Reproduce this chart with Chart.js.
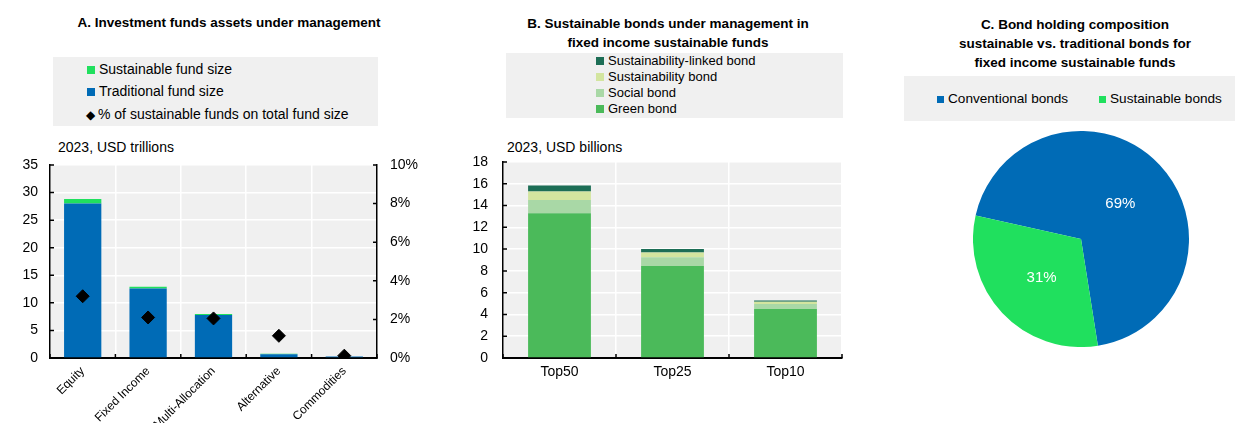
<!DOCTYPE html>
<html>
<head>
<meta charset="utf-8">
<script src="https://cdn.jsdelivr.net/npm/chart.js@4.4.0/dist/chart.umd.min.js"></script>
<style>
  body { margin: 0; width: 1235px; height: 423px; background: #fff; position: relative; overflow: hidden;
         font-family: 'Liberation Sans', Arial, sans-serif; color: #000; }
  .abs { position: absolute; }
  .title { font-weight: bold; font-size: 13.5px; line-height: 19px; text-align: center; }
  .legbox { background: #f0f0f0; }
  .item { position: absolute; white-space: nowrap; line-height: 16px; }
  .sq { display: inline-block; width: 8px; height: 8px; margin-right: 4px; vertical-align: 0px; }
  .unit { font-size: 14px; line-height: 16px; white-space: nowrap; }
  canvas { position: absolute; }
</style>
</head>
<body>
<!-- Panel A -->
<div class="abs title" style="left:29px;top:13px;width:400px;">A. Investment funds assets under management</div>
<div class="abs legbox" style="left:53px;top:57px;width:325px;height:69px;"></div>
<div class="item" style="left:87px;top:61px;font-size:14px;"><span class="sq" style="background:#20e05e"></span>Sustainable fund size</div>
<div class="item" style="left:87px;top:83px;font-size:14px;"><span class="sq" style="background:#006bb6"></span>Traditional fund size</div>
<div class="item" style="left:86px;top:106px;font-size:14px;"><span style="display:inline-block;width:10px;margin-right:2px;font-size:12px;">&#9670;</span>% of sustainable funds on total fund size</div>
<div class="abs unit" style="left:58px;top:139px;">2023, USD trillions</div>
<canvas id="chartA" width="420" height="268" style="left:0;top:155px;width:420px;height:268px;"></canvas>

<!-- Panel B -->
<div class="abs title" style="left:468px;top:14px;width:400px;">B. Sustainable bonds under management in<br>fixed income sustainable funds</div>
<div class="abs legbox" style="left:506px;top:53px;width:337px;height:65px;"></div>
<div class="item" style="left:596px;top:53px;font-size:13px;"><span class="sq" style="background:#1d6e56"></span>Sustainability-linked bond</div>
<div class="item" style="left:596px;top:69px;font-size:13px;"><span class="sq" style="background:#d3e59f"></span>Sustainability bond</div>
<div class="item" style="left:596px;top:85px;font-size:13px;"><span class="sq" style="background:#a9d8a6"></span>Social bond</div>
<div class="item" style="left:596px;top:101px;font-size:13px;"><span class="sq" style="background:#4bba5a"></span>Green bond</div>
<div class="abs unit" style="left:507px;top:139px;">2023, USD billions</div>
<canvas id="chartB" width="430" height="268" style="left:420px;top:155px;width:430px;height:268px;"></canvas>

<!-- Panel C -->
<div class="abs title" style="left:875px;top:15px;width:400px;">C. Bond holding composition<br>sustainable vs. traditional bonds for<br>fixed income sustainable funds</div>
<div class="abs legbox" style="left:904px;top:76px;width:331px;height:45px;"></div>
<div class="item" style="left:937px;top:91px;font-size:13.6px;"><span class="sq" style="background:#006bb6;width:7px;height:7px;"></span>Conventional bonds</div>
<div class="item" style="left:1099px;top:91px;font-size:13.6px;"><span class="sq" style="background:#20e05e;width:7px;height:7px;"></span>Sustainable bonds</div>
<canvas id="chartC" width="216" height="216" style="left:973px;top:131px;width:216px;height:216px;"></canvas>

<script>
// ---- data ----
const fundTypes = ['Equity', 'Fixed Income', 'Multi-Allocation', 'Alternative', 'Commodities'];
const traditionalSize = [28.0, 12.6, 7.8, 0.7, 0.25];
const sustainableSize = [0.85, 0.3, 0.2, 0.08, 0.04];
const sustainableShare = [3.2, 2.1, 2.05, 1.15, 0.12];

const topGroups = ['Top50', 'Top25', 'Top10'];
const greenBond = [13.3, 8.45, 4.5];
const socialBond = [1.2, 0.8, 0.47];
const sustainabilityBond = [0.8, 0.45, 0.2];
const linkedBond = [0.55, 0.3, 0.12];

const compLabels = ['Conventional bonds', 'Sustainable bonds'];
const compValues = [69, 31];

const FONT = "'Liberation Sans', Arial, sans-serif";
Chart.defaults.font.family = FONT;
Chart.defaults.color = '#000';
Chart.defaults.animation = false;

// gray plot background
const plotBg = {
    id: 'plotBg',
    beforeDraw(chart) {
        const a = chart.chartArea, c = chart.ctx;
        c.save();
        c.fillStyle = '#f0f0f0';
        c.fillRect(a.left, a.top, a.right - a.left, a.bottom - a.top);
        c.restore();
    }
};

// small inward tick marks on axes
const innerTicks = {
    id: 'innerTicks',
    afterDraw(chart) {
        const c = chart.ctx, a = chart.chartArea;
        c.save();
        c.strokeStyle = '#000';
        c.lineWidth = 1.5;
        c.beginPath();
        const x = chart.scales.x;
        for (let i = 0; i <= x.ticks.length; i++) {
            const px = x.getPixelForValue(i - 0.5);
            c.moveTo(px, a.bottom); c.lineTo(px, a.bottom - 4);
        }
        const y = chart.scales.y;
        y.ticks.forEach((t, i) => {
            const py = y.getPixelForTick(i);
            c.moveTo(a.left, py); c.lineTo(a.left + 4, py);
        });
        if (chart.scales.y1) {
            const y1 = chart.scales.y1;
            y1.ticks.forEach((t, i) => {
                const py = y1.getPixelForTick(i);
                c.moveTo(a.right, py); c.lineTo(a.right - 4, py);
            });
        }
        c.stroke();
        c.restore();
    }
};

// fixed axis sizes, no label overhang padding
function fixSize(w, h) {
    return function (s) {
        if (w !== null) s.width = w;
        if (h !== null) s.height = h;
        s.paddingTop = 0; s.paddingBottom = 0;
        s.paddingLeft = 0; s.paddingRight = 0;
    };
}

// Panel A
new Chart(document.getElementById('chartA'), {
    type: 'bar',
    data: {
        labels: fundTypes,
        datasets: [
            {
                type: 'line',
                label: '% of sustainable funds on total fund size',
                data: sustainableShare,
                yAxisID: 'y1',
                showLine: false,
                pointStyle: 'rectRot',
                pointRadius: 6.5,
                backgroundColor: '#000',
                borderColor: '#000',
                order: 0
            },
            {
                label: 'Traditional fund size',
                data: traditionalSize,
                backgroundColor: '#006bb6',
                stack: 'a',
                order: 1
            },
            {
                label: 'Sustainable fund size',
                data: sustainableSize,
                backgroundColor: '#20e05e',
                stack: 'a',
                order: 1
            }
        ]
    },
    options: {
        responsive: false,
        layout: { padding: { top: 10, left: 0, right: 0, bottom: 0 } },
        barPercentage: 0.57,
        categoryPercentage: 1,
        plugins: { legend: { display: false }, tooltip: { enabled: false } },
        scales: {
            x: {
                stacked: true,
                grid: { color: '#fff', lineWidth: 1.5, drawTicks: false },
                border: { color: '#000', width: 2 },
                ticks: { minRotation: 45, maxRotation: 45, padding: 6, font: { size: 12 } },
                afterFit: fixSize(null, 65)
            },
            y: {
                stacked: true,
                min: 0, max: 35,
                ticks: { stepSize: 5, padding: 12, font: { size: 14 } },
                grid: { color: '#fff', lineWidth: 1.5, drawTicks: false },
                border: { color: '#000', width: 1.5 },
                afterFit: fixSize(50, null)
            },
            y1: {
                position: 'right',
                min: 0, max: 10,
                ticks: { stepSize: 2, padding: 13, font: { size: 14 }, callback: v => v + '%' },
                grid: { display: false, drawTicks: false },
                border: { color: '#000', width: 1.5 },
                afterFit: fixSize(43, null)
            }
        }
    },
    plugins: [plotBg, innerTicks]
});

// Panel B
new Chart(document.getElementById('chartB'), {
    type: 'bar',
    data: {
        labels: topGroups,
        datasets: [
            { label: 'Green bond', data: greenBond, backgroundColor: '#4bba5a' },
            { label: 'Social bond', data: socialBond, backgroundColor: '#a9d8a6' },
            { label: 'Sustainability bond', data: sustainabilityBond, backgroundColor: '#d3e59f' },
            { label: 'Sustainability-linked bond', data: linkedBond, backgroundColor: '#1d6e56' }
        ]
    },
    options: {
        responsive: false,
        layout: { padding: { top: 7, right: 8, left: 0, bottom: 0 } },
        barPercentage: 0.556,
        categoryPercentage: 1,
        plugins: { legend: { display: false }, tooltip: { enabled: false } },
        scales: {
            x: {
                stacked: true,
                grid: { color: '#fff', lineWidth: 1.5, drawTicks: false },
                border: { color: '#000', width: 2 },
                ticks: { padding: 6, font: { size: 14 } },
                afterFit: fixSize(null, 65)
            },
            y: {
                stacked: true,
                min: 0, max: 18,
                ticks: { stepSize: 2, padding: 15, font: { size: 14 } },
                grid: { color: '#fff', lineWidth: 1.5, drawTicks: false },
                border: { color: '#000', width: 1.5 },
                afterFit: fixSize(83, null)
            }
        }
    },
    plugins: [plotBg, innerTicks]
});

// Panel C
const sliceLabels = {
    id: 'sliceLabels',
    afterDatasetsDraw(chart) {
        const c = chart.ctx;
        const meta = chart.getDatasetMeta(0);
        c.save();
        c.fillStyle = '#fff';
        c.font = '15px ' + FONT;
        c.textAlign = 'center';
        c.textBaseline = 'middle';
        meta.data.forEach((arc, i) => {
            const p = arc.tooltipPosition();
            c.fillText(compValues[i] + '%', p.x, p.y + 2);
        });
        c.restore();
    }
};

new Chart(document.getElementById('chartC'), {
    type: 'pie',
    data: {
        labels: compLabels,
        datasets: [{
            data: compValues,
            backgroundColor: ['#006bb6', '#20e05e'],
            borderWidth: 0
        }]
    },
    options: {
        responsive: false,
        rotation: -77.4,
        plugins: { legend: { display: false }, tooltip: { enabled: false } }
    },
    plugins: [sliceLabels]
});
</script>
</body>
</html>
